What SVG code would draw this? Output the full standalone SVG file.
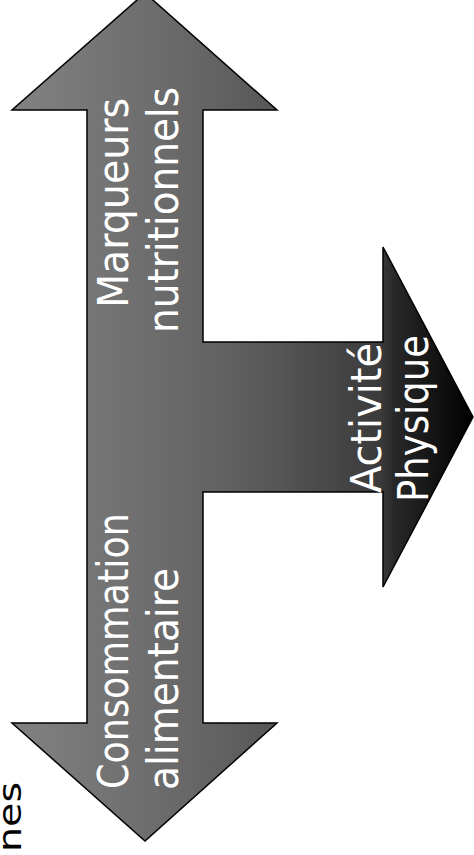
<svg xmlns="http://www.w3.org/2000/svg" width="474" height="855" viewBox="0 0 474 855">
<style>
.lbl{font-family:"DejaVu Sans","Liberation Sans",sans-serif;font-size:42px;fill:#ffffff}
.side{font-family:"DejaVu Sans","Liberation Sans",sans-serif;font-size:32px;fill:#000000}
</style>
<defs>
<linearGradient id="g" gradientUnits="userSpaceOnUse" x1="12" y1="0" x2="473" y2="0">
<stop offset="0" stop-color="#828282"/>
<stop offset="0.414" stop-color="#656565"/>
<stop offset="0.575" stop-color="#565656"/>
<stop offset="0.80" stop-color="#3a3a3a"/>
<stop offset="0.83" stop-color="#282828"/>
<stop offset="1" stop-color="#000000"/>
</linearGradient>
</defs>
<rect width="474" height="855" fill="#ffffff"/>
<g id="connectors">
<path id="cross-arrow" d="M145,-7 L277,110 L203,110 L203,342 L383,342 L383,247 L473,417 L383,587 L383,492 L203,492 L203,723 L277,723 L145,841 L12,723 L87,723 L87,110 L12,110 Z" fill="url(#g)" stroke="#000" stroke-width="1.5" stroke-linejoin="miter"/>
</g>
<g id="marqueurs">
<text class="lbl" transform="translate(128,308) rotate(-90)" textLength="210" lengthAdjust="spacingAndGlyphs">Marqueurs</text>
<text class="lbl" transform="translate(178,333) rotate(-90)" textLength="246" lengthAdjust="spacingAndGlyphs">nutritionnels</text>
</g>
<g id="consommation">
<text class="lbl" transform="translate(128,789) rotate(-90)" textLength="276" lengthAdjust="spacingAndGlyphs">Consommation</text>
<text class="lbl" transform="translate(178,790) rotate(-90)" textLength="222" lengthAdjust="spacingAndGlyphs">alimentaire</text>
</g>
<g id="activite">
<text class="lbl" transform="translate(381,493) rotate(-90)" textLength="150" lengthAdjust="spacingAndGlyphs">Activité</text>
<text class="lbl" transform="translate(428,502) rotate(-90)" textLength="167" lengthAdjust="spacingAndGlyphs">Physique</text>
</g>
<g id="side-text">
<text class="side" transform="translate(21,852) rotate(-90)" textLength="70" lengthAdjust="spacingAndGlyphs">nes</text>
</g>
</svg>
